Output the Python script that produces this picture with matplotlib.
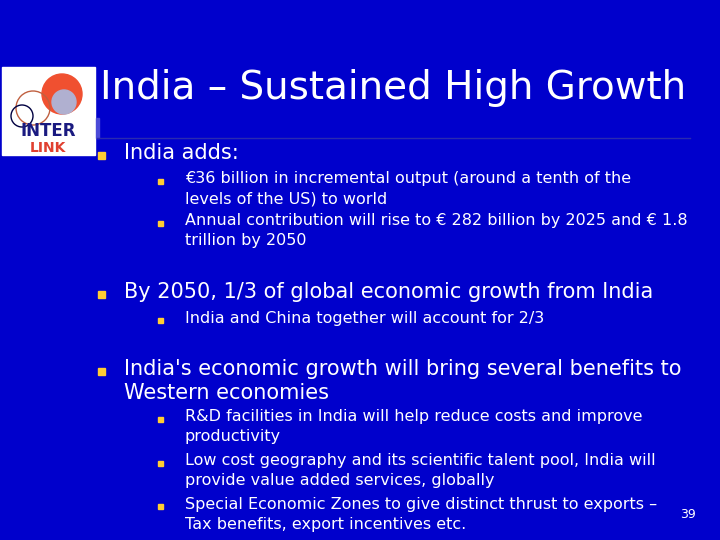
import matplotlib.pyplot as plt
from matplotlib.patches import Rectangle, Circle

BG = "#0000cc"
title = "India – Sustained High Growth"
# (level, y of first line in px, lines)
items = [
    (1, 153, ["India adds:"]),
    (2, 179, ["€36 billion in incremental output (around a tenth of the",
              "levels of the US) to world"]),
    (2, 221, ["Annual contribution will rise to € 282 billion by 2025 and € 1.8",
              "trillion by 2050"]),
    (1, 292, ["By 2050, 1/3 of global economic growth from India"]),
    (2, 318, ["India and China together will account for 2/3"]),
    (1, 369, ["India's economic growth will bring several benefits to",
              "Western economies"]),
    (2, 417, ["R&D facilities in India will help reduce costs and improve",
              "productivity"]),
    (2, 461, ["Low cost geography and its scientific talent pool, India will",
              "provide value added services, globally"]),
    (2, 504, ["Special Economic Zones to give distinct thrust to exports –",
              "Tax benefits, export incentives etc."]),
]
page = "39"

W, H = 720, 540
fig = plt.figure(figsize=(7.2, 5.4), dpi=100)
fig.patch.set_facecolor(BG)
ax = fig.add_axes([0, 0, 1, 1])
ax.set_xlim(0, W)
ax.set_ylim(H, 0)
ax.axis("off")
ax.set_facecolor(BG)

# logo
ax.add_patch(Rectangle((2, 67), 93, 88, color="white"))
ax.add_patch(Circle((62, 94), 20, color="#f05030"))
ax.add_patch(Circle((64, 102), 12, color="#b0b0d0"))
ax.add_patch(Circle((33, 108), 17, fill=False, ec="#c06040", lw=1))
ax.add_patch(Circle((22, 116), 11, fill=False, ec="#000040", lw=1))
ax.text(48, 131, "INTER", ha="center", va="center", color="#1a1a80",
        fontsize=12, fontweight="bold")
ax.text(48, 148, "LINK", ha="center", va="center", color="#e04030",
        fontsize=10, fontweight="bold")

ax.text(100, 88, title, color="white", fontsize=28, va="center", ha="left")
ax.plot([97, 690], [138, 138], color="#2a2ab0", lw=1)
ax.add_patch(Rectangle((96, 118), 3, 20, color="#4a4ad8"))

for level, y, lines in items:
    if level == 1:
        bx, tx, fs, bs, lh = 101, 124, 15, 7, 24
    else:
        bx, tx, fs, bs, lh = 160, 185, 11.5, 5, 20
    ax.add_patch(Rectangle((bx - bs / 2, y - bs / 2 + 2), bs, bs, color="#ffcc33"))
    for i, line in enumerate(lines):
        ax.text(tx, y + i * lh, line, color="white", fontsize=fs, va="center", ha="left")

ax.text(688, 515, page, color="white", fontsize=9, ha="center", va="center")

fig.savefig("out.png", dpi=100, facecolor=BG)
